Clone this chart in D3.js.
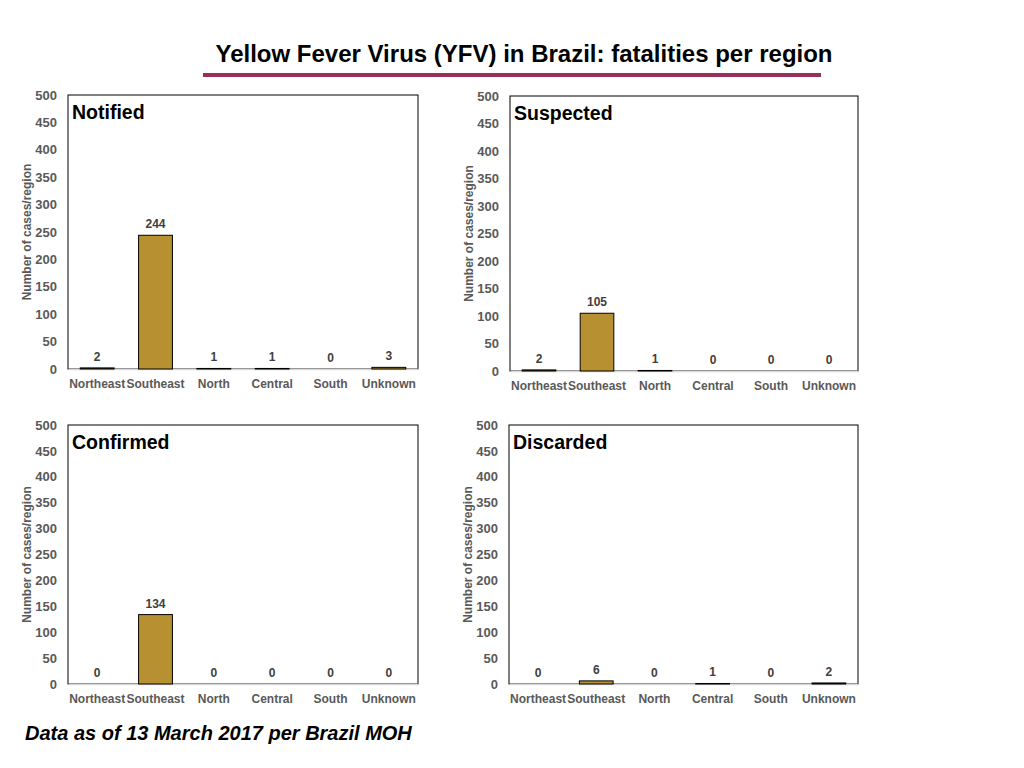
<!DOCTYPE html>
<html>
<head>
<meta charset="utf-8">
<script src="https://cdn.jsdelivr.net/npm/d3@7"></script>
<style>
  body { margin: 0; background: #fff; }
  svg { display: block; font-family: "Liberation Sans", Arial, sans-serif; }
</style>
</head>
<body>
<svg id="drawing_region"></svg>
<script>
// data
const categories = ['Northeast', 'Southeast', 'North', 'Central', 'South', 'Unknown'];
const notified  = [2, 244, 1, 1, 0, 3];
const suspected = [2, 105, 1, 0, 0, 0];
const confirmed = [0, 134, 0, 0, 0, 0];
const discarded = [0, 6, 0, 1, 0, 2];
const yTicks = [0, 50, 100, 150, 200, 250, 300, 350, 400, 450, 500];

const panels = [
    { title: 'Notified',  values: notified,  x0: 68,  x1: 418, top: 95,  bottom: 369 },
    { title: 'Suspected', values: suspected, x0: 510, x1: 858, top: 96,  bottom: 371 },
    { title: 'Confirmed', values: confirmed, x0: 68,  x1: 418, top: 425, bottom: 684 },
    { title: 'Discarded', values: discarded, x0: 509, x1: 858, top: 425, bottom: 684 }
];

const svg = d3.select('#drawing_region')
    .attr('width', 1024)
    .attr('height', 768);

// title + underline
svg.append('text')
    .attr('x', 524)
    .attr('y', 62)
    .attr('text-anchor', 'middle')
    .style('font-size', '24px')
    .style('font-weight', 'bold')
    .attr('fill', '#000')
    .text('Yellow Fever Virus (YFV) in Brazil: fatalities per region');

svg.append('line')
    .attr('x1', 203).attr('x2', 821)
    .attr('y1', 75).attr('y2', 75)
    .attr('stroke', '#98305c')
    .attr('stroke-width', 4);

panels.forEach(p => {
    const g = svg.append('g');

    const x = d3.scaleBand()
        .domain(categories)
        .range([p.x0, p.x1])
        .paddingInner(0.42)
        .paddingOuter(0.21);

    const y = d3.scaleLinear()
        .domain([0, 500])
        .range([p.bottom, p.top]);

    // frame
    g.append('rect')
        .attr('x', p.x0).attr('y', p.top)
        .attr('width', p.x1 - p.x0).attr('height', p.bottom - p.top)
        .attr('fill', 'none')
        .attr('stroke', '#000')
        .attr('stroke-width', 1);

    // y axis labels
    const yAxis = g.append('g')
        .attr('transform', `translate(${p.x0},0)`)
        .call(d3.axisLeft(y).tickValues(yTicks).tickSize(0).tickPadding(11));
    yAxis.select('.domain').remove();
    yAxis.selectAll('text')
        .attr('fill', '#595959')
        .style('font-size', '13px')
        .style('font-weight', 'bold')
        .style('font-family', '"Liberation Sans", Arial, sans-serif');

    // x axis
    const xAxis = g.append('g')
        .attr('transform', `translate(0,${p.bottom})`)
        .call(d3.axisBottom(x).tickSize(0).tickPadding(10));
    xAxis.select('.domain')
        .attr('stroke', '#d9d9d9')
        .attr('stroke-width', 1.5);
    xAxis.selectAll('text')
        .attr('fill', '#595959')
        .style('font-size', '12px')
        .style('font-weight', 'bold')
        .style('font-family', '"Liberation Sans", Arial, sans-serif');

    // y axis title
    g.append('text')
        .attr('transform', `translate(${p.x0 - 37},${(p.top + p.bottom) / 2}) rotate(-90)`)
        .attr('text-anchor', 'middle')
        .attr('fill', '#595959')
        .style('font-size', '12px')
        .style('font-weight', 'bold')
        .text('Number of cases/region');

    // bars
    g.selectAll('rect.bar')
        .data(p.values.map((v, i) => ({ cat: categories[i], value: v })).filter(d => d.value > 0))
        .enter()
        .append('rect')
        .attr('class', 'bar')
        .attr('x', d => x(d.cat))
        .attr('y', d => y(d.value))
        .attr('width', x.bandwidth())
        .attr('height', d => y(0) - y(d.value))
        .attr('fill', '#b79131')
        .attr('stroke', '#000')
        .attr('stroke-width', 1);

    // value labels
    g.selectAll('text.val')
        .data(p.values.map((v, i) => ({ cat: categories[i], value: v })))
        .enter()
        .append('text')
        .attr('class', 'val')
        .attr('x', d => x(d.cat) + x.bandwidth() / 2)
        .attr('y', d => y(d.value) - 7)
        .attr('text-anchor', 'middle')
        .attr('fill', '#404040')
        .style('font-size', '12px')
        .style('font-weight', 'bold')
        .text(d => d.value);

    // panel title
    g.append('text')
        .attr('x', p.x0 + 4)
        .attr('y', p.top + 24)
        .attr('fill', '#000')
        .style('font-size', '19.5px')
        .style('font-weight', 'bold')
        .text(p.title);
});

// footnote
svg.append('text')
    .attr('x', 25)
    .attr('y', 740)
    .attr('fill', '#000')
    .style('font-size', '20px')
    .style('font-weight', 'bold')
    .style('font-style', 'italic')
    .text('Data as of 13 March 2017 per Brazil MOH');
</script>
</body>
</html>
